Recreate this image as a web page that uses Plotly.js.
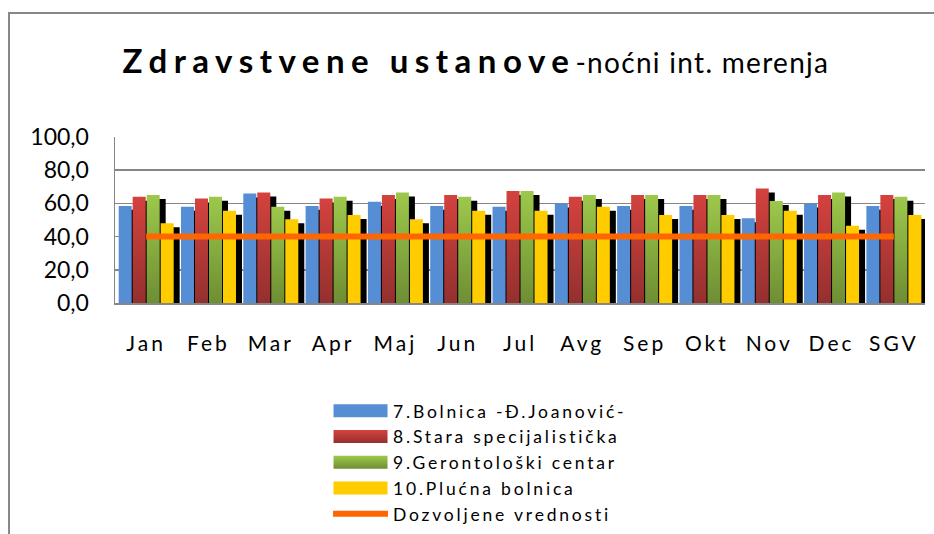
<!DOCTYPE html>
<html><head><meta charset="utf-8">
<script src="https://cdn.plot.ly/plotly-3.0.1.min.js"></script>
<style>
html,body{margin:0;padding:0;background:#fff;}
#wrap{position:relative;width:934px;height:534px;overflow:hidden;}
#chart{width:934px;height:534px;}
#frame{position:absolute;left:8px;top:12px;width:1000px;height:1000px;border:2px solid #878787;pointer-events:none;}
.xtick text{letter-spacing:3px;}
.legendtext{letter-spacing:2.8px;}
</style></head><body>
<div id="wrap"><div id="chart"></div><div id="frame"></div></div>
<script>
const categories = ['Jan','Feb','Mar','Apr','Maj','Jun','Jul','Avg','Sep','Okt','Nov','Dec','SGV'];
const seriesNames = ['7.Bolnica -Đ.Joanović-','8.Stara specijalistička','9.Gerontološki centar','10.Plućna bolnica'];
const bolnica = [58.5, 58, 66, 58.5, 61, 58.5, 58, 60, 58.5, 58.5, 51, 60, 58.5];
const staraSpec = [64, 63, 66.5, 63, 65, 65, 67.5, 64, 65, 65, 69, 65, 65];
const gerontoloski = [65, 64, 58, 64, 66.5, 64, 67.5, 65, 65, 65, 61.5, 66.5, 64];
const plucna = [48, 55.5, 50.5, 53, 50.5, 55.5, 55.5, 58, 53, 53, 55.5, 46.5, 53];
const dozvoljene = [40, 40, 40, 40, 40, 40, 40, 40, 40, 40, 40, 40, 40];
const limitName = 'Dozvoljene vrednosti';

const series = [bolnica, staraSpec, gerontoloski, plucna];
const colors = ['#558ED5', '#C0392F', '#8DB543', '#FFCC00'];
const BAR_W = 0.2087, PITCH = 0.2247, FIRST = -0.441, SH_DX = 0.0963, SH_DY = 2.4;
const FONT = 'Lato, "Liberation Sans", sans-serif';

const traces = [];
series.forEach((vals, i) => {
  traces.push({type:'bar', x:categories, y:vals.map(v => v - SH_DY), width:BAR_W,
    offset:FIRST + i*PITCH + SH_DX, marker:{color:'#000', line:{width:0}},
    showlegend:false, hoverinfo:'skip'});
});
series.forEach((vals, i) => {
  traces.push({type:'bar', x:categories, y:vals, name:seriesNames[i], width:BAR_W,
    offset:FIRST + i*PITCH, marker:{color:colors[i], line:{width:0}}});
});
traces.push({type:'scatter', mode:'lines', x:categories, y:dozvoljene, name:limitName,
  line:{color:'#FF6600', width:6}});

const layout = {
  width:934, height:534,
  paper_bgcolor:'#fff', plot_bgcolor:'#fff',
  barmode:'overlay',
  separators:', ',
  margin:{l:115, r:9, t:137, b:231, autoexpand:false},
  font:{family:FONT, color:'#000'},
  title:{
    text:'<b><span style="letter-spacing:6.5px">Zdravstvene ustanove</span></b><span style="font-size:28px;letter-spacing:1.3px">-noćni int. merenja</span>',
    font:{size:33, family:FONT, color:'#000'},
    x:0.5096, xanchor:'center', y:0.884, yanchor:'middle'
  },
  xaxis:{type:'category', range:[-0.5, 12.5], showgrid:false, showline:true,
    linecolor:'#868686', linewidth:1.5, ticks:'', ticklabelstandoff:21,
    tickfont:{size:21, family:FONT, color:'#000'}, fixedrange:true},
  yaxis:{range:[0, 100], dtick:20, tick0:0, tickformat:'.1f', showgrid:true,
    gridcolor:'#868686', gridwidth:1.5, showline:true, linecolor:'#868686', linewidth:1.5,
    zeroline:false, ticks:'', ticklabelstandoff:20,
    tickfont:{size:23, family:FONT, color:'#000'}, fixedrange:true},
  legend:{x:0.263, xanchor:'left', y:-0.542, yanchor:'top', orientation:'v',
    font:{size:17.5, family:FONT, color:'#000'}, itemwidth:55, tracegroupgap:0,
    bgcolor:'rgba(0,0,0,0)'},
  showlegend:true
};

Plotly.newPlot('chart', traces, layout, {displayModeBar:false, staticPlot:true}).then(gd => {
  const svg = gd.querySelector('.main-svg');
  const ns = 'http://www.w3.org/2000/svg';
  let defs = svg.querySelector('defs');
  if (!defs) { defs = document.createElementNS(ns, 'defs'); svg.insertBefore(defs, svg.firstChild); }
  function grad(id, top, bot) {
    const g = document.createElementNS(ns, 'linearGradient');
    g.setAttribute('id', id); g.setAttribute('x1','0'); g.setAttribute('y1','0');
    g.setAttribute('x2','0'); g.setAttribute('y2','1');
    [[0, top], [1, bot]].forEach(([o, c]) => {
      const s = document.createElementNS(ns, 'stop');
      s.setAttribute('offset', o); s.setAttribute('stop-color', c); g.appendChild(s);
    });
    defs.appendChild(g);
  }
  grad('gRed', '#D4423E', '#93302E');
  grad('gGreen', '#9DC84B', '#6E8E33');
  const fills = [null, 'url(#gRed)', 'url(#gGreen)', null];
  const barTraces = gd.querySelectorAll('.barlayer .trace');
  for (let i = 0; i < 4; i++) {
    if (!fills[i]) continue;
    barTraces[4 + i].querySelectorAll('path').forEach(p => { p.style.fill = fills[i]; });
  }
  const legTraces = gd.querySelectorAll('.legend .traces');
  legTraces.forEach((t, i) => {
    if (i < 4) {
      t.querySelectorAll('.legendpoints path').forEach(p => {
        p.setAttribute('d', 'M-27,-6.5H27V6.5H-27Z');
        if (fills[i]) p.style.fill = fills[i];
      });
    }
  });
});
</script>
</body></html>
